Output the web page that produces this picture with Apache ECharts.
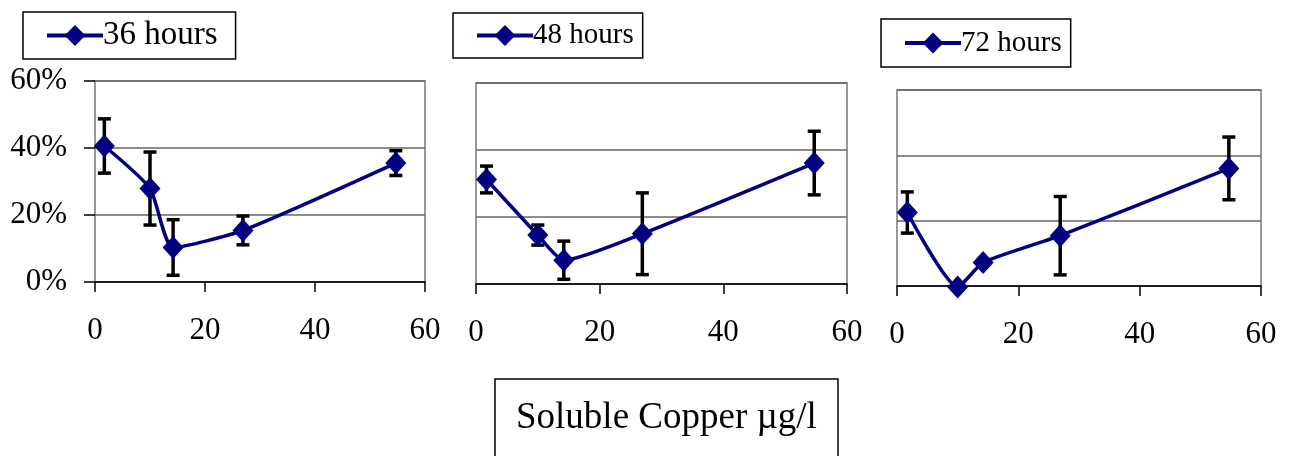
<!DOCTYPE html>
<html>
<head>
<meta charset="utf-8">
<script src="https://cdn.jsdelivr.net/npm/echarts@6/dist/echarts.min.js"></script>
<style>
  html, body { margin: 0; padding: 0; background: #fff; }
  #chart { width: 1294px; height: 456px; }
</style>
</head>
<body>
<div id="chart"></div>
<script>
// soluble copper (ug/l), same for every panel
var copper = [1.7, 10, 14.2, 26.9, 54.7];

var names = ['36 hours', '48 hours', '72 hours'];

// mean response, %
var mean36 = [40.6, 27.9, 10.3, 15.4, 35.5];
var mean48 = [31.2, 14.6, 7.1, 15.0, 36.1];
var mean72 = [22.5, -0.3, 7.2, 15.4, 36.0];

// error bar half-widths, %
var err36 = [8.1, 10.9, 8.3, 4.3, 3.7];
var err48 = [4.0, 3.0, 5.7, 12.2, 9.5];
var err72 = [6.3, 0, 0, 12.0, 9.6];

var xTicks = [0, 20, 40, 60];
var yTicks = [0, 20, 40, 60];

var navy = '#000080';
var font = '"Liberation Serif", "Times New Roman", serif';

var dom = document.getElementById('chart');
var myChart = echarts.init(dom);

var grids = [
    {left: 95, right: 869, top: 81, bottom: 174},
    {left: 476, right: 447, top: 83, bottom: 172},
    {left: 897, right: 33, top: 90, bottom: 170}
];

var legendPos = [
    {left: 23, top: 12, h: 48, pr: 18, fs: 33},
    {left: 453, top: 13, h: 50, pr: 9, fs: 29},
    {left: 881, top: 19, h: 53, pr: 9, fs: 29}
];

function pairs(ys) {
    return copper.map(function (x, i) { return [x, ys[i]]; });
}
function bars(ys, es) {
    return copper.map(function (x, i) { return [x, ys[i] - es[i], ys[i] + es[i]]; });
}

function errorItem(params, api) {
    var lo = api.coord([api.value(0), api.value(1)]);
    var hi = api.coord([api.value(0), api.value(2)]);
    if (Math.abs(lo[1] - hi[1]) < 1) return null;
    var cap = 6.5;
    var st = {stroke: '#000', lineWidth: 3.5};
    return {
        type: 'group',
        children: [
            {type: 'line', shape: {x1: lo[0], y1: lo[1], x2: hi[0], y2: hi[1]}, style: st},
            {type: 'line', shape: {x1: lo[0] - cap, y1: lo[1], x2: lo[0] + cap, y2: lo[1]}, style: st},
            {type: 'line', shape: {x1: hi[0] - cap, y1: hi[1], x2: hi[0] + cap, y2: hi[1]}, style: st}
        ]
    };
}

var means = [mean36, mean48, mean72];
var errs = [err36, err48, err72];

var option = {
    backgroundColor: '#fff',
    animation: false,
    textStyle: {fontFamily: font},
    title: {
        text: 'Soluble Copper \u00b5g/l',
        left: 495,
        top: 379,
        padding: [21, 21, 60, 21],
        borderColor: '#000',
        borderWidth: 1.5,
        textStyle: {fontFamily: font, fontSize: 37, fontWeight: 'normal', color: '#000'}
    },
    grid: grids.map(function (g) {
        return {left: g.left, right: g.right, top: g.top, bottom: g.bottom,
            show: true, borderColor: '#999', borderWidth: 2, backgroundColor: 'transparent'};
    }),
    legend: names.map(function (n, i) {
        var p = legendPos[i];
        return {
            data: [n],
            left: p.left,
            top: p.top,
            padding: [(p.h - 34) / 2, p.pr, (p.h - 34) / 2, 22],
            orient: 'horizontal',
            borderColor: '#000',
            borderWidth: 1.5,
            itemWidth: 56,
            itemHeight: 26,
            itemGap: 0,
            selectedMode: false,
            lineStyle: {width: 4},
            textStyle: {fontFamily: font, fontSize: p.fs, color: '#000', padding: [0, 0, 0, -5]}
        };
    }),
    xAxis: grids.map(function (g, i) {
        return {
            type: 'value',
            gridIndex: i,
            min: 0,
            max: 60,
            interval: 20,
            axisLine: {show: true, onZero: false, lineStyle: {color: '#000', width: 1.5}},
            axisTick: {show: true, length: 10, lineStyle: {color: '#000', width: 1.5}},
            axisLabel: {show: true, margin: 33, color: '#000', fontFamily: font, fontSize: 31,
                formatter: function (v) { return xTicks.indexOf(v) >= 0 ? String(v) : ''; }},
            splitLine: {show: false}
        };
    }),
    yAxis: grids.map(function (g, i) {
        return {
            type: 'value',
            gridIndex: i,
            min: 0,
            max: 60,
            interval: 20,
            axisLine: {show: false},
            axisTick: {show: i === 0, length: 11, lineStyle: {color: '#000', width: 1.5}},
            axisLabel: {show: i === 0, margin: 28, color: '#000', fontFamily: font, fontSize: 31,
                formatter: function (v) { return yTicks.indexOf(v) >= 0 ? v + '%' : ''; }},
            splitLine: {show: true, lineStyle: {color: '#666', width: 1.5}}
        };
    }),
    series: []
};

names.forEach(function (n, i) {
    option.series.push({
        type: 'custom',
        xAxisIndex: i,
        yAxisIndex: i,
        renderItem: errorItem,
        clip: false,
        silent: true,
        z: 2,
        data: bars(means[i], errs[i])
    });
    option.series.push({
        name: n,
        type: 'line',
        xAxisIndex: i,
        yAxisIndex: i,
        smooth: 0.2,
        clip: false,
        symbol: 'diamond',
        symbolSize: [21, 23],
        z: 3,
        itemStyle: {color: navy},
        lineStyle: {color: navy, width: 3.5},
        data: pairs(means[i])
    });
});

if (option && typeof option === "object") {
    myChart.setOption(option, true);
}
</script>
</body>
</html>
